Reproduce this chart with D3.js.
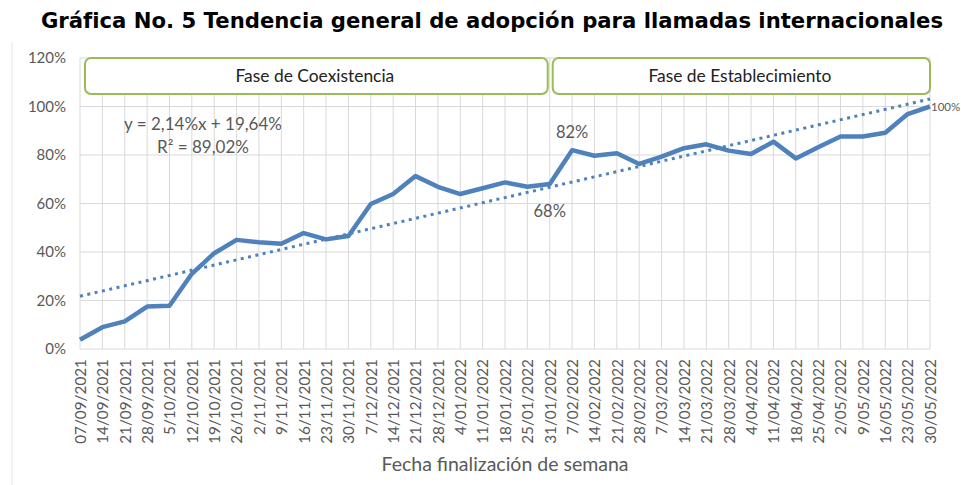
<!DOCTYPE html>
<html lang="es">
<head>
<meta charset="UTF-8">
<title>Gráfica No. 5</title>
<script src="https://d3js.org/d3.v7.min.js"></script>
<style>
  body { margin: 0; background: #fff; }
  svg { display: block; }
  .tick text { fill: #595959; }
</style>
</head>
<body>
<div id="chart"></div>
<script>
const weeks = ["07/09/2021","14/09/2021","21/09/2021","28/09/2021","5/10/2021","12/10/2021","19/10/2021","26/10/2021",
  "2/11/2021","9/11/2021","16/11/2021","23/11/2021","30/11/2021","7/12/2021","14/12/2021","21/12/2021","28/12/2021",
  "4/01/2022","11/01/2022","18/01/2022","25/01/2022","31/01/2022","7/02/2022","14/02/2022","21/02/2022","28/02/2022",
  "7/03/2022","14/03/2022","21/03/2022","28/03/2022","4/04/2022","11/04/2022","18/04/2022","25/04/2022","2/05/2022",
  "9/05/2022","16/05/2022","23/05/2022","30/05/2022"];
const adoption = [3.8, 9, 11.4, 17.5, 17.8, 31, 39.5, 45, 44, 43.4, 47.8, 45.2, 46.6, 59.8, 63.9, 71.3, 66.9,
  63.9, 66.3, 68.7, 66.9, 68, 82, 79.7, 80.7, 76.3, 79.3, 82.8, 84.4, 81.8, 80.4, 85.5, 78.6, 83.2, 87.6,
  87.6, 89.2, 96.9, 100];
const yTicks = [0, 20, 40, 60, 80, 100, 120];
const trendSlope = 2.14, trendIntercept = 19.64;
const phases = [
  { name: "Fase de Coexistencia", from: 0, to: 21 },
  { name: "Fase de Establecimiento", from: 21, to: 38 }
];
const pointLabels = [ { i: 21, text: "68%", pos: "below" }, { i: 22, text: "82%", pos: "above" } ];

const width = 961, height = 485;
const plotLeft = 80, plotRight = 930, plotTop = 58, plotBottom = 349;
const blue = "#4f81bd", grey = "#595959";

const svg = d3.select("#chart").append("svg")
  .attr("width", width).attr("height", height);

svg.append("text")
  .attr("x", 492).attr("y", 28)
  .attr("text-anchor", "middle")
  .style("font-family", "'DejaVu Sans', sans-serif")
  .style("font-weight", "bold").style("font-size", "21.2px")
  .text("Gráfica No. 5 Tendencia general de adopción para llamadas internacionales");

// faint frame line on the left
svg.append("line").attr("x1", 12).attr("x2", 12).attr("y1", 42).attr("y2", height)
  .attr("stroke", "#e4e4e4").attr("stroke-width", 1);

const x = d3.scalePoint().domain(d3.range(weeks.length)).range([plotLeft, plotRight]);
const y = d3.scaleLinear().domain([0, 120]).range([plotBottom, plotTop]);

// gridlines
svg.append("g").selectAll("line").data(yTicks).join("line")
  .attr("x1", plotLeft).attr("x2", plotRight)
  .attr("y1", d => y(d)).attr("y2", d => y(d))
  .attr("stroke", "#d9d9d9").attr("stroke-width", 1);
svg.append("g").selectAll("line").data(d3.range(weeks.length)).join("line")
  .attr("x1", d => x(d)).attr("x2", d => x(d))
  .attr("y1", plotTop).attr("y2", plotBottom)
  .attr("stroke", "#d9d9d9").attr("stroke-width", 1);

// y axis
const yAxis = svg.append("g")
  .attr("transform", `translate(${plotLeft},0)`)
  .call(d3.axisLeft(y).tickValues(yTicks).tickFormat(d => d + "%").tickSize(0).tickPadding(14));
yAxis.select(".domain").remove();
yAxis.selectAll("text").style("font-family", "Lato, sans-serif").style("font-size", "15px");

// x axis
const xAxis = svg.append("g")
  .attr("transform", `translate(0,${plotBottom})`)
  .call(d3.axisBottom(x).tickFormat(i => weeks[i]).tickSize(0));
xAxis.select(".domain").remove();
xAxis.selectAll("text")
  .style("font-family", "Lato, sans-serif").style("font-size", "15.3px")
  .attr("transform", "rotate(-90)")
  .attr("text-anchor", "end")
  .attr("x", -10).attr("y", 0).attr("dy", "0.35em");

svg.append("text")
  .attr("x", 505).attr("y", 471)
  .attr("text-anchor", "middle")
  .attr("fill", grey)
  .style("font-family", "Lato, sans-serif").style("font-size", "19.5px")
  .text("Fecha finalización de semana");

// phase boxes
const box = svg.append("g").selectAll("g").data(phases).join("g");
box.append("rect")
  .attr("x", (d, i) => x(d.from) + (i === 0 ? 5 : 3))
  .attr("width", (d, i) => x(d.to) - x(d.from) - (i === 0 ? 7 : 3))
  .attr("y", 58).attr("height", 36)
  .attr("rx", 6)
  .attr("fill", "#fff").attr("stroke", "#9bbb59").attr("stroke-width", 2);
box.append("text")
  .attr("x", d => (x(d.from) + x(d.to)) / 2)
  .attr("y", 82)
  .attr("text-anchor", "middle")
  .style("font-family", "Lato, sans-serif").style("font-size", "17.4px")
  .attr("fill", "#222")
  .text(d => d.name);

// trend line
const trend = i => trendSlope * (i + 1) + trendIntercept;
svg.append("line")
  .attr("x1", x(0)).attr("y1", y(trend(0)))
  .attr("x2", x(weeks.length - 1)).attr("y2", y(trend(weeks.length - 1)))
  .attr("stroke", blue).attr("stroke-width", 3)
  .attr("stroke-dasharray", "3 4.5");

// data line
svg.append("path")
  .datum(adoption)
  .attr("fill", "none")
  .attr("stroke", blue).attr("stroke-width", 4.5)
  .attr("stroke-linejoin", "round")
  .attr("d", d3.line().x((d, i) => x(i)).y(d => y(d)));

// labels
svg.selectAll("text.pl").data(pointLabels).join("text")
  .attr("class", "pl")
  .attr("x", d => x(d.i))
  .attr("y", d => d.pos === "above" ? y(adoption[d.i]) - 12 : y(adoption[d.i]) + 33)
  .attr("text-anchor", "middle")
  .attr("fill", grey)
  .style("font-family", "Lato, sans-serif").style("font-size", "16.5px")
  .text(d => d.text);
const last = weeks.length - 1;
svg.append("text")
  .attr("x", x(last) + 1).attr("y", y(adoption[last]) + 4)
  .attr("fill", grey)
  .style("font-family", "Lato, sans-serif").style("font-size", "11.5px")
  .text(adoption[last] + "%");

// equation
const eq = svg.append("text")
  .attr("text-anchor", "middle").attr("fill", grey)
  .style("font-family", "Lato, sans-serif").style("font-size", "17px");
eq.append("tspan").attr("x", 203).attr("y", 130).text(`y = ${String(trendSlope).replace(".", ",")}%x + ${String(trendIntercept).replace(".", ",")}%`);
eq.append("tspan").attr("x", 203).attr("y", 153).text("R² = 89,02%");
</script>
</body>
</html>
